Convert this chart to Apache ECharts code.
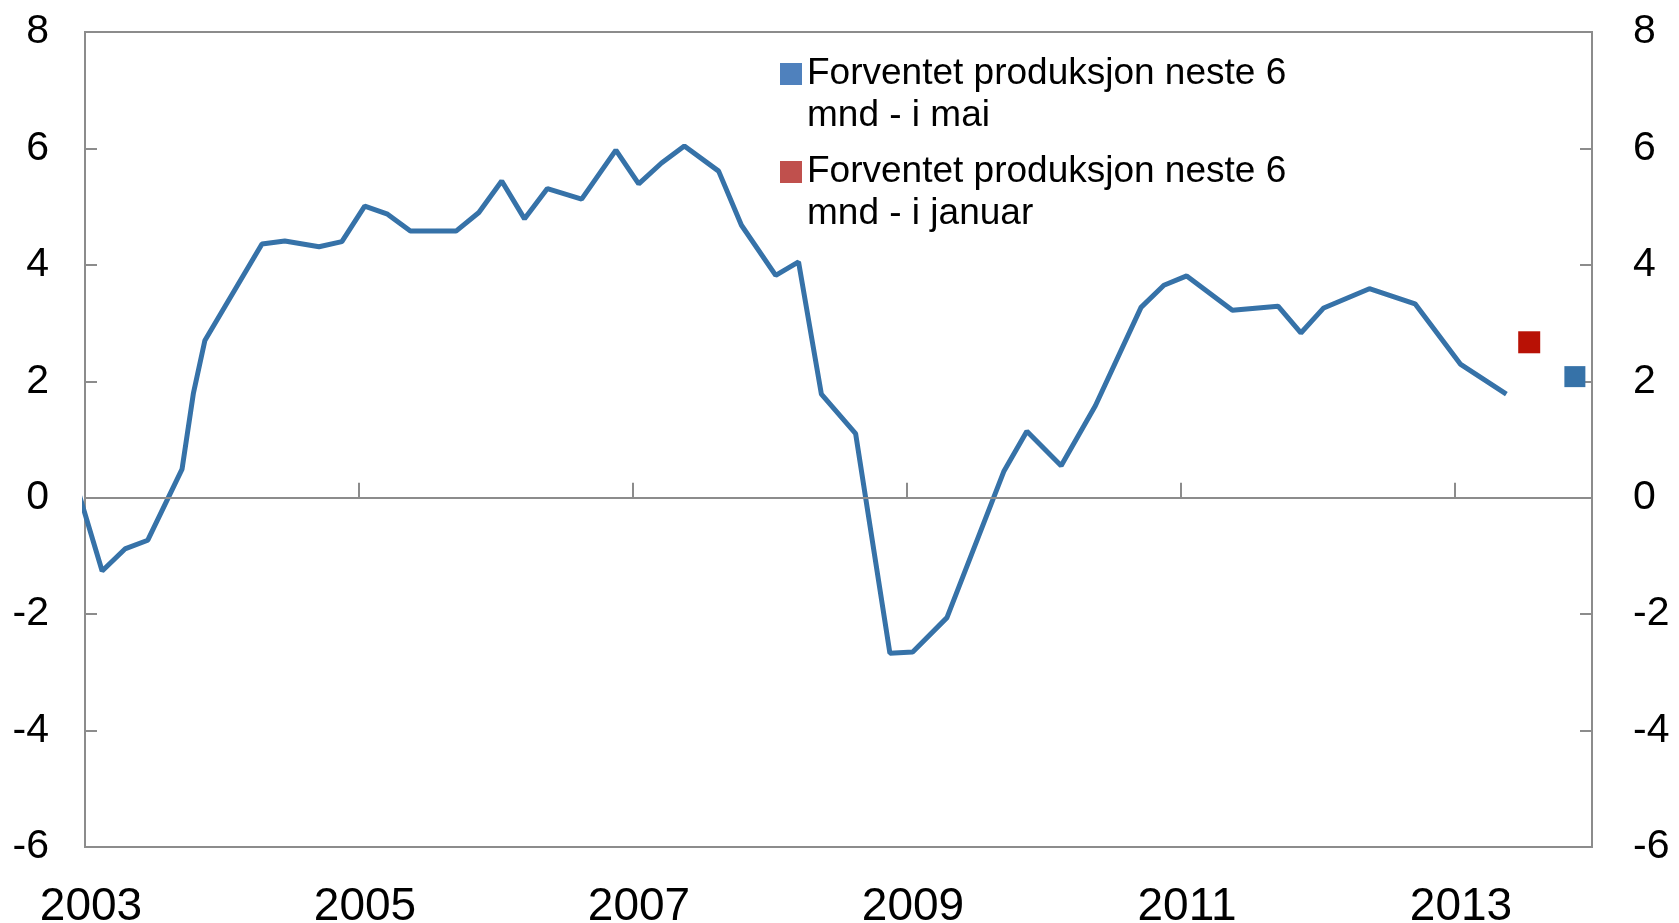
<!DOCTYPE html>
<html>
<head>
<meta charset="utf-8">
<script src="https://cdn.jsdelivr.net/npm/echarts@6/dist/echarts.min.js"></script>
<style>
  html, body { margin: 0; padding: 0; background: #fff; }
  #chart { width: 1679px; height: 923px; }
</style>
</head>
<body>
<div id="chart"></div>
<script>
// maaned for hver observasjon (plassert midt i maaneden)
var datoer = ['2002-12', '2003-02', '2003-04', '2003-06', '2003-09', '2003-10', '2003-11',
  '2004-04', '2004-06', '2004-09', '2004-11',
  '2005-01', '2005-03', '2005-05', '2005-09', '2005-11',
  '2006-01', '2006-03', '2006-05', '2006-08', '2006-11',
  '2007-01', '2007-03', '2007-05', '2007-08', '2007-10',
  '2008-01', '2008-03', '2008-05', '2008-08', '2008-11',
  '2009-01', '2009-04', '2009-09', '2009-11',
  '2010-02', '2010-05', '2010-09', '2010-11',
  '2011-01', '2011-05', '2011-09', '2011-11',
  '2012-01', '2012-05', '2012-09',
  '2013-01', '2013-05']
var verdier = [0.05, -1.26, -0.88, -0.73, 0.49, 1.80, 2.70,
  4.36, 4.41, 4.31, 4.40,
  5.01, 4.87, 4.58, 4.58, 4.90,
  5.44, 4.79, 5.31, 5.13, 5.97,
  5.39, 5.75, 6.04, 5.61, 4.68,
  3.82, 4.05, 1.78, 1.10, -2.67,
  -2.65, -2.06, 0.46, 1.14,
  0.55, 1.58, 3.27, 3.65,
  3.81, 3.22, 3.29, 2.83,
  3.26, 3.59, 3.33,
  2.29, 1.78]

var navnMai = 'Forventet produksjon neste 6 mnd - i mai'
var navnJan = 'Forventet produksjon neste 6 mnd - i januar'
var maiDato = '2013-11', maiVerdi = 2.08
var janDato = '2013-07', janVerdi = 2.67

var yTicks = [-6, 8, 2]   // min, max, intervall
var xTicks = [2003, 2014, 2]

function tilAar(s) {
  var p = s.split('-')
  return +p[0] + (+p[1] - 0.5) / 12
}

var linje = datoer.map(function (d, i) { return [tilAar(d), verdier[i]] })

var grå = '#8c8c8c'
var font = 'Liberation Sans, Arial, sans-serif'

var chart = echarts.init(document.getElementById('chart'))

function legende(navn, farge, topp) {
  return {
    data: [{ name: navn, icon: 'rect', itemStyle: { color: farge, opacity: 1 } }],
    orient: 'vertical',
    left: 780,
    top: topp,
    padding: 0,
    itemWidth: 22,
    itemHeight: 22,
    selectedMode: false,
    // tom forste linje slik at teksten starter ved ikonet
    formatter: function (n) { return ' \n' + n.replace(' mnd', '\nmnd') },
    textStyle: { fontSize: 37, lineHeight: 42, color: '#000', fontFamily: font }
  }
}

function yAkse(pos, marg) {
  return {
    type: 'value',
    position: pos,
    min: yTicks[0],
    max: yTicks[1],
    interval: yTicks[2],
    axisLine: { show: true, lineStyle: { color: grå, width: 2 } },
    axisTick: { show: true, inside: true, length: 12, lineStyle: { color: grå, width: 2 } },
    axisLabel: { fontSize: 41, color: '#000', fontFamily: font, margin: marg },
    splitLine: { show: false }
  }
}

chart.setOption({
  animation: false,
  grid: {
    left: 85, right: 87, top: 32, bottom: 76,
    outerBoundsMode: 'none',
    show: true, borderColor: grå, borderWidth: 2
  },
  legend: [legende(navnMai, '#4f81bd', 11), legende(navnJan, '#c0504d', 109)],
  xAxis: {
    type: 'value',
    min: xTicks[0],
    max: xTicks[1],
    interval: xTicks[2],
    axisLine: { show: true, lineStyle: { color: grå, width: 2 } },
    axisTick: { show: true, inside: true, length: 15, lineStyle: { color: grå, width: 2 } },
    axisLabel: {
      fontSize: 46, color: '#000', fontFamily: font, margin: 37, padding: [0, 0, 0, 12],
      showMaxLabel: false,
      formatter: function (v) { return v % 2 === 1 ? String(v) : '' }
    },
    splitLine: { show: false }
  },
  yAxis: [yAkse('left', 36), yAkse('right', 41)],
  series: [
    {
      name: 'linje',
      type: 'line',
      data: linje,
      showSymbol: false,
      lineStyle: { width: 5, color: '#3672a8' },
      itemStyle: { color: '#3672a8' },
      markLine: {
        silent: true,
        symbol: 'none',
        label: { show: false },
        lineStyle: { color: grå, width: 2, type: 'solid' },
        data: [{ yAxis: 0 }]
      }
    },
    {
      name: navnMai,
      type: 'scatter',
      symbol: 'rect',
      symbolSize: 21,
      itemStyle: { color: '#3672a8', opacity: 1 },
      data: [[tilAar(maiDato), maiVerdi]]
    },
    {
      name: navnJan,
      type: 'scatter',
      symbol: 'rect',
      symbolSize: 22,
      itemStyle: { color: '#b81105', opacity: 1 },
      data: [[tilAar(janDato), janVerdi]]
    }
  ]
})
</script>
</body>
</html>
